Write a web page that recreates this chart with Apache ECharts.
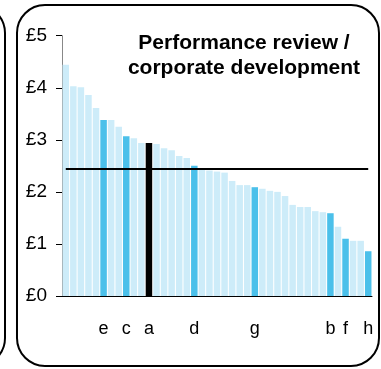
<!DOCTYPE html>
<html>
<head>
<meta charset="utf-8">
<style>
  html, body { margin: 0; padding: 0; background: #ffffff; }
  #chart { width: 381px; height: 369px; }
</style>
<script src="https://cdn.jsdelivr.net/npm/echarts@6/dist/echarts.min.js"></script>
</head>
<body>
<div id="chart"></div>
<script>
// Cost per head, sorted from highest to lowest; named organisations are lettered.
const labels = [
  '', '', '', '', '', 'e', '', '', 'c', '', '',
  'a', '', '', '', '', '', 'd', '', '', '',
  '', '', '', '', 'g', '', '', '', '', '',
  '', '', '', '', 'b', '', 'f', '', '', 'h'
];
const values = [
  4.44, 4.03, 4.01, 3.86, 3.61, 3.38, 3.38, 3.25, 3.07, 3.03, 2.94,
  2.94, 2.92, 2.84, 2.80, 2.69, 2.65, 2.50, 2.42, 2.41, 2.39,
  2.37, 2.21, 2.13, 2.13, 2.09, 2.06, 2.02, 2.00, 1.92, 1.75,
  1.71, 1.71, 1.63, 1.61, 1.59, 1.33, 1.10, 1.06, 1.06, 0.86
];
const yTicks = ['£0', '£1', '£2', '£3', '£4', '£5'];
const averageValue = 2.44;
const titleLines = ['Performance review /', 'corporate development'];

const FONT = '"Liberation Sans", Arial, sans-serif';
const colorOther = '#cdecf9';
const colorNamed = '#4bc0ea';
const colorFocus = '#000000';

const barData = values.map((v, i) => ({
  value: v,
  itemStyle: {
    color: labels[i] === 'a' ? colorFocus : (labels[i] ? colorNamed : colorOther)
  }
}));

const titleStyle = {
  fontFamily: FONT,
  fontSize: 21,
  fontWeight: 'bold',
  fill: '#000',
  textAlign: 'center',
  textVerticalAlign: 'middle'
};

const chart = echarts.init(document.getElementById('chart'), null, { renderer: 'canvas' });
chart.setOption({
  animation: false,
  backgroundColor: '#ffffff',
  graphic: [
    {
      type: 'rect',
      shape: { x: 17, y: 5, width: 362, height: 361, r: 28 },
      style: { fill: 'none', stroke: '#000', lineWidth: 2 },
      z: -1
    },
    {
      type: 'rect',
      shape: { x: -400, y: 5, width: 405, height: 361, r: 28 },
      style: { fill: 'none', stroke: '#000', lineWidth: 2 },
      z: -1
    },
    {
      type: 'text',
      x: 244,
      y: 43,
      style: Object.assign({ text: titleLines[0] }, titleStyle),
      z: 10
    },
    {
      type: 'text',
      x: 244,
      y: 68,
      style: Object.assign({ text: titleLines[1] }, titleStyle),
      z: 10
    }
  ],
  grid: { left: 62, right: 9, top: 35.7, bottom: 73 },
  xAxis: {
    type: 'category',
    data: labels,
    axisLine: { show: true, lineStyle: { color: '#000', width: 1 } },
    axisTick: { show: false },
    axisLabel: {
      interval: 0,
      margin: 24,
      fontFamily: FONT,
      fontSize: 18,
      color: '#000'
    }
  },
  yAxis: {
    type: 'value',
    min: 0,
    max: 5,
    interval: 1,
    splitLine: { show: false },
    axisLine: { show: true, lineStyle: { color: '#888', width: 1 } },
    axisTick: { show: true, length: 6, lineStyle: { color: '#000' } },
    axisLabel: {
      margin: 15,
      fontFamily: FONT,
      fontSize: 19,
      color: '#000',
      formatter: (v) => yTicks[Math.round(v)]
    }
  },
  series: [
    {
      type: 'bar',
      data: barData,
      barCategoryGap: '14%',
      markLine: {
        symbol: 'none',
        silent: true,
        label: { show: false },
        lineStyle: { color: '#000', width: 2, type: 'solid' },
        data: [[
          { coord: [0, averageValue] },
          { coord: [values.length - 1, averageValue] }
        ]]
      }
    }
  ]
});
</script>
</body>
</html>
